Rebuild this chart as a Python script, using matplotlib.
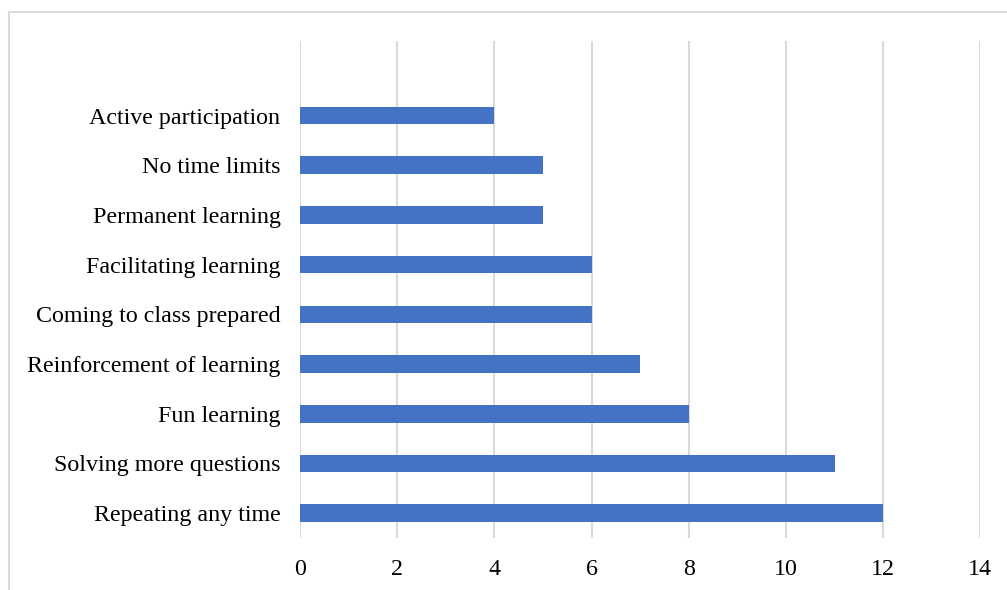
import numpy as np
import matplotlib.pyplot as plt
from matplotlib.patches import Rectangle

# -------------------------
# DATA
# -------------------------
categories = [
    "Repeating any time", "Solving more questions", "Fun learning",
    "Reinforcement of learning", "Coming to class prepared",
    "Facilitating learning", "Permanent learning", "No time limits",
    "Active participation"
]
counts = [12, 11, 8, 7, 6, 6, 5, 5, 4]
xticks = [0, 2, 4, 6, 8, 10, 12, 14]

plt.rcParams['font.family'] = ['Liberation Serif', 'DejaVu Serif']

W, H = 1007, 590
fig = plt.figure(figsize=(W / 100, H / 100), dpi=100)
ax = fig.add_axes([300 / W, 1 - 538 / H, 680.3 / W, 497 / H])

y = np.arange(len(categories))
ax.barh(y, counts, height=0.356, color='#4472C4', zorder=3)

ax.set_xlim(0, 14)
ax.set_ylim(-0.5, 9.5)
ax.set_xticks(xticks)
ax.set_yticks(y)
ax.set_yticklabels(categories)
ax.tick_params(axis='both', length=0, labelsize=17.3)
ax.tick_params(axis='y', pad=14)
ax.tick_params(axis='x', pad=15)
ax.grid(axis='x', color='#d9d9d9', linewidth=1.5, zorder=0)
for s in ax.spines.values():
    s.set_visible(False)

# outer chart border (partly cut off at right and bottom)
fig.add_artist(Rectangle((9 / W, -0.1), 1.1, (H - 12) / H + 0.1,
                         transform=fig.transFigure, fill=False,
                         edgecolor='#d9d9d9', linewidth=1.5, clip_on=False))

fig.savefig("out.png", dpi=100)
